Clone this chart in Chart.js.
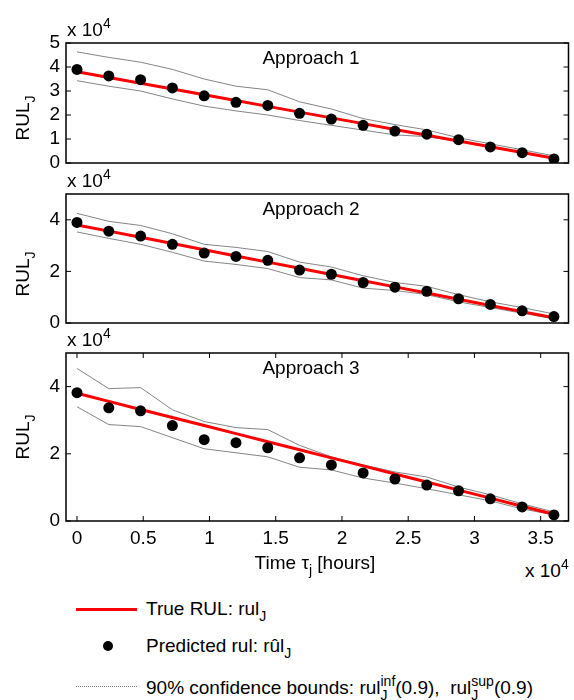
<!DOCTYPE html>
<html>
<head>
<meta charset="utf-8">
<script src="https://cdn.jsdelivr.net/npm/chart.js@4.4.1/dist/chart.umd.min.js"></script>
<style>
  body { margin: 0; background: #fff; }
  #wrap { position: relative; width: 574px; height: 700px; overflow: hidden;
          font-family: "Liberation Sans", Arial, sans-serif; color: #000; }
  canvas { position: absolute; left: 0; }
  .lbl { position: absolute; font-size: 19px; line-height: 1; white-space: nowrap; }
  .c { transform: translate(-50%, -50%); }
  .sp { font-size: 14px; position: relative; top: -8px; }
  .sb { font-size: 14px; position: relative; top: 6px; }
  .rot { transform: translate(-50%, -50%) rotate(-90deg); }
</style>
</head>
<body>
<div id="wrap">
  <canvas id="p1" width="574" height="215" style="top:0px"></canvas>
  <canvas id="p2" width="574" height="200" style="top:170px"></canvas>
  <canvas id="p3" width="574" height="230" style="top:330px"></canvas>

  <div class="lbl c" style="left:311px; top:57px">Approach 1</div>
  <div class="lbl c" style="left:311px; top:208px">Approach 2</div>
  <div class="lbl c" style="left:311px; top:367px">Approach 3</div>

  <div class="lbl" style="left:67px; top:20px">x 10<span class="sp">4</span></div>
  <div class="lbl" style="left:67px; top:171px">x 10<span class="sp">4</span></div>
  <div class="lbl" style="left:67px; top:330px">x 10<span class="sp">4</span></div>
  <div class="lbl" style="left:525px; top:561px">x 10<span class="sp">4</span></div>

  <div class="lbl rot" style="left:22px; top:118px">RUL<span class="sb">J</span></div>
  <div class="lbl rot" style="left:22px; top:274px">RUL<span class="sb">J</span></div>
  <div class="lbl rot" style="left:22px; top:437px">RUL<span class="sb">J</span></div>

  <div class="lbl c" style="left:315px; top:562px">Time &tau;<span class="sb">j</span> [hours]</div>

  <div style="position:absolute; left:76px; top:607.5px; width:61px; height:3px; background:#ff0000"></div>
  <div style="position:absolute; left:103px; top:641px; width:10px; height:10px; border-radius:50%; background:#000"></div>
  <div style="position:absolute; left:76px; top:686px; width:61px; border-top:1px dotted #777"></div>

  <div class="lbl" style="left:146px; top:599px">True RUL: rul<span class="sb">J</span></div>
  <div class="lbl" style="left:146px; top:636px">Predicted rul: r&ucirc;l<span class="sb">J</span></div>
  <div class="lbl" style="left:146px; top:678px">90% confidence bounds: rul<span class="sb">J</span><span class="sp" style="margin-left:-7px">inf</span>(0.9),&nbsp; rul<span class="sb">J</span><span class="sp" style="margin-left:-7px">sup</span>(0.9)</div>
</div>

<script>
// time in units of 10^4 hours, RUL in units of 10^4 hours
const timeK = [0, 0.24, 0.48, 0.72, 0.96, 1.2, 1.44, 1.68, 1.92, 2.16, 2.4, 2.64, 2.88, 3.12, 3.36, 3.6];
const trueRul = [3.8, 3.56, 3.32, 3.08, 2.84, 2.6, 2.36, 2.12, 1.88, 1.64, 1.4, 1.16, 0.92, 0.68, 0.44, 0.2];

const pred1  = [3.9, 3.63, 3.47, 3.13, 2.8, 2.53, 2.4, 2.07, 1.83, 1.57, 1.33, 1.2, 0.97, 0.67, 0.43, 0.17];
const upper1 = [4.63, 4.4, 4.2, 3.9, 3.5, 3.2, 3.05, 2.55, 2.25, 1.85, 1.6, 1.38, 1.05, 0.8, 0.55, 0.3];
const lower1 = [3.43, 3.2, 3.0, 2.67, 2.37, 2.17, 2.0, 1.77, 1.57, 1.37, 1.17, 1.1, 0.9, 0.67, 0.43, 0.2];

const pred2  = [3.9, 3.56, 3.37, 3.05, 2.71, 2.58, 2.43, 2.05, 1.89, 1.57, 1.39, 1.23, 0.94, 0.72, 0.47, 0.25];
const upper2 = [4.25, 3.94, 3.78, 3.46, 3.05, 2.93, 2.77, 2.36, 2.17, 1.83, 1.57, 1.42, 1.1, 0.82, 0.6, 0.35];
const lower2 = [3.53, 3.28, 3.05, 2.74, 2.4, 2.27, 2.11, 1.76, 1.67, 1.35, 1.26, 1.1, 0.82, 0.6, 0.38, 0.16];

const pred3  = [3.82, 3.37, 3.28, 2.84, 2.42, 2.33, 2.18, 1.88, 1.67, 1.43, 1.25, 1.07, 0.9, 0.66, 0.42, 0.18];
const upper3 = [4.54, 3.94, 3.97, 3.31, 2.96, 2.78, 2.72, 2.25, 1.91, 1.67, 1.46, 1.31, 1.01, 0.78, 0.51, 0.27];
const lower3 = [3.4, 2.87, 2.81, 2.48, 2.15, 2.03, 1.91, 1.6, 1.52, 1.28, 1.13, 0.96, 0.78, 0.6, 0.36, 0.18];

const xTicks = [0, 0.5, 1, 1.5, 2, 2.5, 3, 3.5];
const yTicks1 = [0, 1, 2, 3, 4, 5];
const yTicks23 = [0, 2, 4];

const FONT = { family: '"Liberation Sans", Arial, sans-serif', size: 19 };

function toXY(arr) {
  return timeK.map((t, i) => ({ x: t, y: arr[i] }));
}

// matlab-like box with inward ticks
const boxPlugin = {
  id: 'box',
  afterDraw(chart, args, opts) {
    const { ctx, chartArea: a, scales } = chart;
    ctx.save();
    ctx.strokeStyle = '#000';
    ctx.lineWidth = 1;
    ctx.beginPath();
    scales.y.ticks.forEach(t => {
      const y = scales.y.getPixelForValue(t.value);
      ctx.moveTo(a.left, y); ctx.lineTo(a.left + 5, y);
      ctx.moveTo(a.right, y); ctx.lineTo(a.right - 5, y);
    });
    if (opts.xTicks) {
      scales.x.ticks.forEach(t => {
        const x = scales.x.getPixelForValue(t.value);
        ctx.moveTo(x, a.bottom); ctx.lineTo(x, a.bottom - 5);
        ctx.moveTo(x, a.top); ctx.lineTo(x, a.top + 5);
      });
    }
    ctx.stroke();
    ctx.lineWidth = 1.5;
    ctx.strokeRect(a.left, a.top, a.right - a.left, a.bottom - a.top);
    ctx.restore();
  }
};

function makePanel(id, pred, upper, lower, yTicks, cfg) {
  return new Chart(document.getElementById(id), {
    type: 'line',
    data: {
      datasets: [
        { data: toXY(pred), showLine: false, pointRadius: 5.5, pointBackgroundColor: '#000', pointBorderWidth: 0 },
        { data: toXY(trueRul), borderColor: '#ff0000', borderWidth: 3, pointRadius: 0 },
        { data: toXY(upper), borderColor: '#777', borderWidth: 0.9, pointRadius: 0 },
        { data: toXY(lower), borderColor: '#777', borderWidth: 0.9, pointRadius: 0 }
      ]
    },
    options: {
      responsive: false,
      animation: false,
      events: [],
      layout: { padding: { top: cfg.top, bottom: cfg.bottom, left: 0, right: 3 } },
      plugins: { legend: { display: false }, tooltip: { enabled: false }, box: { xTicks: cfg.showX } },
      scales: {
        x: {
          type: 'linear', min: -0.083, max: 3.71, display: cfg.showX,
          afterBuildTicks: s => { s.ticks = xTicks.map(v => ({ value: v })); },
          afterFit: s => { s.height = 30; },
          ticks: { font: FONT, color: '#000', padding: 6, maxRotation: 0, autoSkip: false,
                   callback: v => String(v) },
          grid: { display: false, drawTicks: false },
          border: { display: false }
        },
        y: {
          min: 0, max: 5,
          afterBuildTicks: s => { s.ticks = yTicks.map(v => ({ value: v })); },
          afterFit: s => { s.width = 66; },
          ticks: { font: FONT, color: '#000', padding: 6, autoSkip: false, callback: v => String(v) },
          grid: { display: false, drawTicks: false },
          border: { display: false }
        }
      }
    },
    plugins: [boxPlugin]
  });
}

makePanel('p1', pred1, upper1, lower1, yTicks1, { top: 43, bottom: 22, showX: false });
makePanel('p2', pred2, upper2, lower2, yTicks23, { top: 24, bottom: 17, showX: false });
makePanel('p3', pred3, upper3, lower3, yTicks23, { top: 23, bottom: 9, showX: true });
</script>
</body>
</html>
